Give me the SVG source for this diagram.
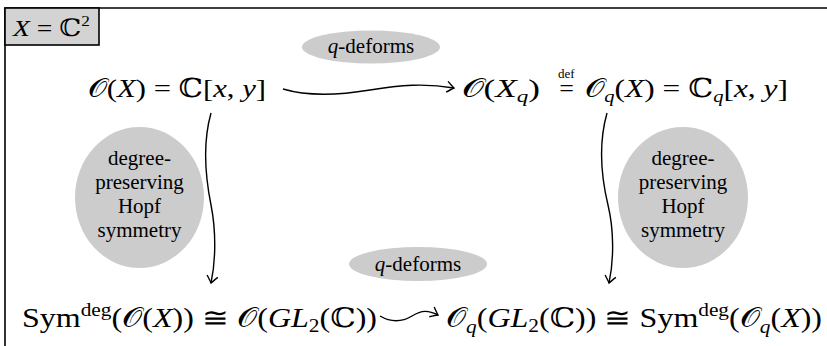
<svg xmlns="http://www.w3.org/2000/svg" width="827" height="346" viewBox="0 0 827 346">
<defs>
<style>
.m{font-family:"Liberation Serif","DejaVu Serif",serif;fill:#000}
.t{font-size:26px}
.b{font-size:27px}
.i{font-style:italic}
.lbl{font-family:"Liberation Serif","DejaVu Serif",serif;font-size:21px;fill:#000;text-anchor:middle}
.bub{fill:#cccccc}
.edge{fill:none;stroke:#000;stroke-width:1.4}
</style>
<marker id="ah" markerUnits="userSpaceOnUse" markerWidth="16" markerHeight="16" refX="0" refY="0" viewBox="-10 -8 12 16" orient="auto" overflow="visible">
<path d="M -7 -5.5 C -4 -3 -1.5 -1 0 0 C -1.5 1 -4 3 -7 5.5" fill="none" stroke="#000" stroke-width="1.4"/>
</marker>
</defs>
<rect width="827" height="346" fill="#fff"/>
<g id="frame">
<path d="M 5 346 L 5 8 L 827 8" fill="none" stroke="#000" stroke-width="1.6"/>
<rect x="5" y="8" width="94" height="37" fill="#d3d3d3" stroke="#000" stroke-width="1.6"/>
<text class="m" x="13" y="36" font-size="24" textLength="77" lengthAdjust="spacingAndGlyphs"><tspan class="i">X</tspan> = ℂ<tspan font-size="15" dy="-10">2</tspan></text>
</g>
<g id="connectors">
<path class="edge" d="M 283 89 C 310 97 340 95 370 90 S 425 83 454 88" marker-end="url(#ah)"/>
<path class="edge" d="M 211 113 C 202 145 206 180 211 205 S 216 260 211 283" marker-end="url(#ah)"/>
<path class="edge" d="M 607 113 C 598 145 602 180 608 205 S 614 260 609 283" marker-end="url(#ah)"/>
<path class="edge" d="M 380 316 C 392 323 402 322 412 316 S 428 310 438 315" marker-end="url(#ah)"/>
</g>
<g id="n-top-left">
<text class="m t" x="88" y="97" textLength="178" lengthAdjust="spacingAndGlyphs">𝒪(<tspan class="i">X</tspan>) = ℂ[<tspan class="i">x</tspan>, <tspan class="i">y</tspan>]</text>
</g>
<g id="n-top-right">
<text class="m t" x="462" y="97" textLength="78" lengthAdjust="spacingAndGlyphs">𝒪(<tspan class="i">X</tspan><tspan class="i" font-size="17" dy="5">q</tspan><tspan dy="-5">)</tspan></text>
<text class="m t" x="558" y="97">=<tspan font-size="13" dx="-16" dy="-19">def</tspan></text>
<text class="m t" x="585" y="97" textLength="203" lengthAdjust="spacingAndGlyphs">𝒪<tspan class="i" font-size="17" dy="5">q</tspan><tspan dy="-5">(</tspan><tspan class="i">X</tspan>) = ℂ<tspan class="i" font-size="17" dy="5">q</tspan><tspan dy="-5">[</tspan><tspan class="i">x</tspan>, <tspan class="i">y</tspan>]</text>
</g>
<g id="n-bottom-left">
<text class="m b" x="22" y="327" textLength="355" lengthAdjust="spacingAndGlyphs">Sym<tspan font-size="18" dy="-11">deg</tspan><tspan dy="11">(𝒪(</tspan><tspan class="i">X</tspan>)) ≅ 𝒪(<tspan class="i">GL</tspan><tspan font-size="18" dy="5">2</tspan><tspan dy="-5">(ℂ))</tspan></text>
</g>
<g id="n-bottom-right">
<text class="m b" x="446" y="327" textLength="376" lengthAdjust="spacingAndGlyphs">𝒪<tspan class="i" font-size="18" dy="6">q</tspan><tspan dy="-6">(</tspan><tspan class="i">GL</tspan><tspan font-size="18" dy="5">2</tspan><tspan dy="-5">(ℂ)) ≅ Sym</tspan><tspan font-size="18" dy="-11">deg</tspan><tspan dy="11">(𝒪</tspan><tspan class="i" font-size="18" dy="6">q</tspan><tspan dy="-6">(</tspan><tspan class="i">X</tspan>))</text>
</g>
<g id="lbl-top-deform">
<ellipse class="bub" cx="371" cy="47" rx="69" ry="16.5"/>
<text class="lbl" x="371" y="53" font-size="21"><tspan class="i">q</tspan>-deforms</text>
</g>
<g id="lbl-bottom-deform">
<ellipse class="bub" cx="418" cy="264" rx="69" ry="17"/>
<text class="lbl" x="418" y="271" font-size="21"><tspan class="i">q</tspan>-deforms</text>
</g>
<g id="lbl-left-hopf">
<ellipse class="bub" cx="139.5" cy="197.5" rx="64.5" ry="70.5"/>
<text class="lbl" x="139.5" y="165">degree-</text>
<text class="lbl" x="139.5" y="189">preserving</text>
<text class="lbl" x="139.5" y="213">Hopf</text>
<text class="lbl" x="139.5" y="237">symmetry</text>
</g>
<g id="lbl-right-hopf">
<ellipse class="bub" cx="683" cy="197.5" rx="65" ry="70.5"/>
<text class="lbl" x="683" y="165">degree-</text>
<text class="lbl" x="683" y="189">preserving</text>
<text class="lbl" x="683" y="213">Hopf</text>
<text class="lbl" x="683" y="237">symmetry</text>
</g>
</svg>
